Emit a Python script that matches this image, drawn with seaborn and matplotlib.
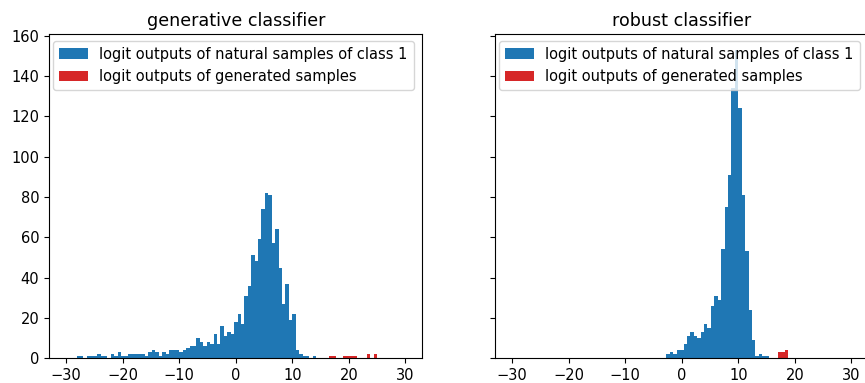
import numpy as np
import pandas as pd
import matplotlib
matplotlib.use("Agg")
import matplotlib.pyplot as plt
import seaborn as sns

# ---------------- data ----------------
bin_edges = list(np.linspace(-30, 30, 100))

gen_natural_counts = [0, 0, 0, 1, 1, 0, 1, 1, 1, 2,
                      1, 1, 0, 2, 1, 3, 1, 1, 2, 2,
                      2, 2, 2, 1, 3, 4, 3, 1, 3, 2,
                      4, 4, 4, 3, 4, 5, 6, 6, 10, 8,
                      6, 8, 7, 12, 7, 16, 11, 13, 12, 18,
                      22, 17, 31, 36, 51, 48, 59, 74, 82, 81,
                      57, 64, 45, 27, 37, 19, 22, 4, 2, 1,
                      1, 0, 1, 0, 0, 0, 0, 0, 0, 0,
                      0, 0, 0, 0, 0, 0, 0, 0, 0, 0,
                      0, 0, 0, 0, 0, 0, 0, 0, 0]

robust_natural_counts = [0, 0, 0, 0, 0, 0, 0, 0, 0, 0,
                         0, 0, 0, 0, 0, 0, 0, 0, 0, 0,
                         0, 0, 0, 0, 0, 0, 0, 0, 0, 0,
                         0, 0, 0, 0, 0, 0, 0, 0, 0, 0,
                         0, 0, 0, 0, 0, 2, 3, 2, 4, 4,
                         7, 11, 13, 11, 10, 13, 17, 15, 26, 31,
                         29, 54, 75, 91, 134, 153, 124, 81, 53, 24,
                         9, 1, 2, 1, 1, 0, 0, 0, 0, 0,
                         0, 0, 0, 0, 0, 0, 0, 0, 0, 0,
                         0, 0, 0, 0, 0, 0, 0, 0, 0]

gen_generated_edges = list(np.linspace(16.55, 25.03, 15))
gen_generated_counts = [1, 1, 0, 0, 1, 1, 1, 1, 0, 0, 0, 2, 0, 2]

robust_generated_edges = list(np.linspace(16.97, 18.86, 4))
robust_generated_counts = [3, 3, 4]

titles = ["generative classifier", "robust classifier"]
legend_labels = ["logit outputs of natural samples of class 1",
                 "logit outputs of generated samples"]
x_ticks = [-30, -20, -10, 0, 10, 20, 30]
y_ticks = [0, 20, 40, 60, 80, 100, 120, 140, 160]

# ---------------- figure ----------------
plt.rcParams["font.family"] = ["DejaVu Sans"]
plt.rcParams["font.size"] = 10.5
plt.rcParams["xtick.major.size"] = 3.7
plt.rcParams["ytick.major.size"] = 3.7
fig = plt.figure(figsize=(8.65, 3.83), dpi=100)
W, H = 865, 383
ax1 = fig.add_axes([49.3 / W, (H - 358.3) / H, 373 / W, 324 / H])
ax2 = fig.add_axes([495.3 / W, (H - 358.3) / H, 373 / W, 324 / H], sharey=ax1)

blue = "#1f77b4"
red = "#d62728"


def frame(edges, counts):
    e = np.asarray(edges)
    return pd.DataFrame({"value": (e[:-1] + e[1:]) / 2,
                         "count": np.asarray(counts, dtype=float)})


panels = [
    (ax1, gen_natural_counts, gen_generated_edges, gen_generated_counts, titles[0]),
    (ax2, robust_natural_counts, robust_generated_edges, robust_generated_counts, titles[1]),
]

for ax, nat_counts, g_edges, g_counts, title in panels:
    sns.histplot(data=frame(bin_edges, nat_counts), x="value", weights="count",
                 bins=bin_edges, color=blue, alpha=1, linewidth=0,
                 edgecolor="none", label=legend_labels[0], ax=ax)
    sns.histplot(data=frame(g_edges, g_counts), x="value", weights="count",
                 bins=g_edges, color=red, alpha=1, linewidth=0,
                 edgecolor="none", label=legend_labels[1], ax=ax)
    ax.set_title(title, fontsize=12.6)
    ax.set_xticks(x_ticks)
    ax.set_xlim(-33, 33)
    ax.set_xlabel("")
    ax.set_ylabel("")
    ax.legend(loc="upper left", bbox_to_anchor=(3.4 / 373, 1 - 6.4 / 324),
              borderaxespad=0, fontsize=10.5)

ax1.set_yticks(y_ticks)
ax1.set_ylim(0, 160.65)
ax2.tick_params(labelleft=False)

fig.savefig("out.png", dpi=100)
